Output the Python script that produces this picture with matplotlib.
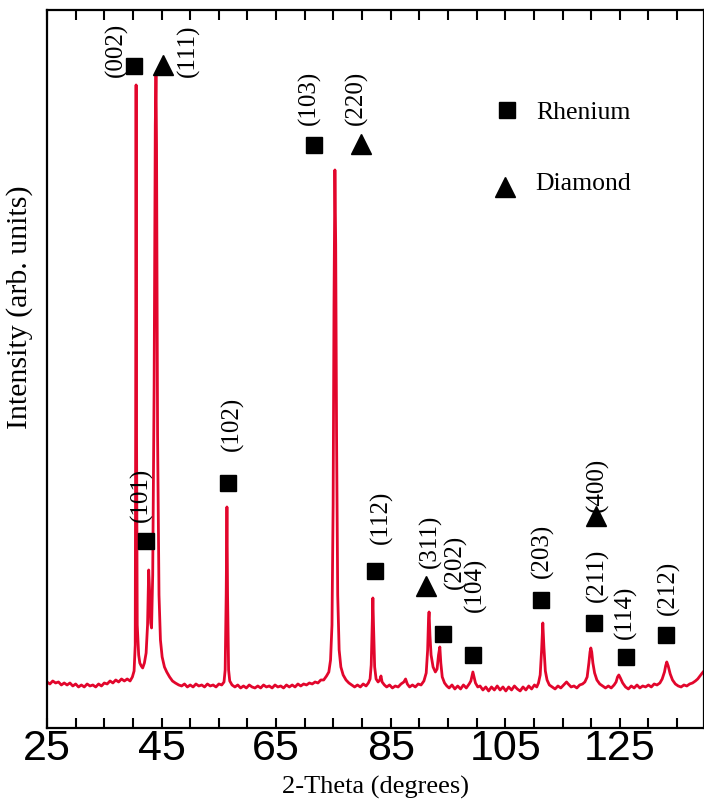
import numpy as np
import matplotlib
matplotlib.use('Agg')
import matplotlib.pyplot as plt

# данные: дифрактограмма (2θ, интенсивность)
theta = [25.0, 25.5, 26.0, 26.5, 27.0, 27.5, 28.0, 28.5, 29.0, 29.5, 30.0, 30.5, 31.0, 31.5, 32.0,
         32.5, 33.0, 33.5, 34.0, 34.5, 35.0, 35.5, 36.0, 36.5, 37.0, 37.5, 38.0, 38.5, 39.0, 39.5,
         39.9, 40.2, 40.4, 40.47, 40.55, 40.63, 40.75, 41.0, 41.2, 41.45, 41.7, 42.0, 42.3, 42.55,
         42.75, 42.9, 43.1, 43.25, 43.45, 43.7, 43.9, 44.02, 44.12, 44.3, 44.55, 44.8, 45.1, 45.5,
         45.9, 46.4, 46.9, 47.4, 48.0,
         48.5, 49.0, 49.5, 50.0, 50.5, 51.0, 51.5, 52.0, 52.5, 53.0, 53.5, 54.0, 54.5, 55.0, 55.5,
         55.9, 56.1, 56.28, 56.41, 56.52, 56.7, 56.9, 57.3,
         57.8, 58.3, 58.8, 59.3, 59.8, 60.3, 60.8, 61.3, 61.8, 62.3, 62.8, 63.3, 63.8, 64.3, 64.8,
         65.3, 65.8, 66.3, 66.8, 67.3, 67.8, 68.3, 68.8, 69.3, 69.8, 70.3, 70.8, 71.3, 71.8, 72.3,
         72.8, 73.3, 73.8, 74.2,
         74.5, 74.75, 74.95, 75.1, 75.26, 75.4, 75.55, 75.75, 76.0, 76.3, 76.7, 77.2, 77.7, 78.2,
         78.7, 79.2, 79.7, 80.2, 80.7, 81.1,
         81.4, 81.6, 81.78, 81.89, 82.0, 82.2, 82.45, 82.8, 83.1, 83.3, 83.5, 83.9,
         84.3, 84.8, 85.3, 85.8, 86.3, 86.8, 87.3, 87.6, 87.9, 88.3, 88.8, 89.3, 89.8, 90.3,
         90.8, 91.2, 91.45, 91.6, 91.7, 91.85, 92.05, 92.4, 92.8, 93.1, 93.35, 93.58, 93.75, 94.0,
         94.4, 94.8,
         95.2, 95.7, 96.2, 96.7, 97.2, 97.7, 98.2, 98.7,
         99.0, 99.2, 99.35, 99.55, 99.8, 100.2,
         100.6, 101.1, 101.6, 102.1, 102.6, 103.1, 103.6, 104.1, 104.6, 105.1, 105.6, 106.1, 106.6,
         107.1, 107.6, 108.1, 108.6, 109.1, 109.6, 110.1, 110.5,
         110.8, 111.1, 111.35, 111.56, 111.75, 112.0, 112.3, 112.7, 113.2,
         113.7, 114.2, 114.7, 115.2, 115.7, 116.0, 116.5, 117.0, 117.5, 118.0, 118.5,
         118.9, 119.3, 119.6, 119.8, 119.94, 120.1, 120.3, 120.6, 121.0, 121.5, 122.0,
         122.5, 123.0, 123.5, 124.0,
         124.35, 124.6, 124.83, 125.1, 125.5, 126.0,
         126.5, 127.0, 127.5, 128.0, 128.5, 129.0, 129.5, 130.0, 130.5, 131.0, 131.5, 132.0,
         132.4, 132.8, 133.0, 133.2, 133.45, 133.8, 134.2, 134.7, 135.2,
         135.7, 136.2, 136.7, 137.2, 137.7, 138.2, 138.6, 139.0, 139.4, 139.7]
counts = [3, 1, 4, 2, 3, 0, 2, 0, 2, -1, 1, -2, 0, -2, 1,
          -1, 0, -2, 1, -1, 2, 1, 4, 2, 5, 3, 6, 4, 6, 4,
          8, 14, 40, 250, 600, 250, 60, 30, 22, 19, 17, 22, 32, 60,
          115, 95, 62, 57, 110, 300, 560, 610, 540, 250, 90, 45, 28, 18,
          13, 8, 4, 2, 0,
          -1, 1, -2, 0, -2, 1, -1, 0, -2, 1, -1, 0, -2, 1, 0,
          3, 15, 90, 178, 90, 15, 4, 0,
          -2, 0, -3, -1, -3, 0, -2, -3, -1, -3, 0, -2, -1, -3, 0,
          -2, -1, -3, 0, -2, 0, -2, 1, -1, 1, 0, 2, 1, 3, 2,
          5, 5, 9, 13,
          25, 60, 180, 380, 515, 440, 250, 90, 35, 18, 10, 5, 2, 0,
          -2, 0, -2, 1, -1, 2,
          6, 20, 60, 87, 60, 18, 6, 3, 5, 9, 3, 0,
          -2, 0, -3, -1, -2, 1, 3, 6, 1, -2, 0, -2, 1, 0,
          4, 12, 35, 65, 73, 50, 30, 18, 13, 16, 30, 38, 22, 8,
          2, -1,
          -3, 0, -4, -1, -4, 0, -3, 1,
          4, 9, 13, 8, 2, -2,
          -1, -5, -2, -6, -2, -5, -1, -5, -2, -6, -2, -5, -1, -4,
          -6, -2, -5, -1, -4, 0, -2,
          2, 10, 35, 62, 38, 14, 5, 0, -2,
          -4, -1, -3, 0, 3, 1, -2, -1, -3, 0, 1,
          3, 8, 22, 33, 37, 33, 22, 12, 5, 1, -1,
          -3, -1, -3, 0,
          3, 8, 10, 7, 2, -2,
          -4, -1, -3, 0, -3, -1, -2, 0, -2, 1, 0, 2,
          6, 13, 19, 23, 19, 11, 5, 1, -1,
          -2, 0, -1, 1, 2, 4, 6, 9, 12, 14]

# значки фаз над пиками
re_x = [40.27, 71.68, 42.36, 56.6, 82.24, 94.1, 99.35, 111.3, 120.55, 126.1, 133.1]
re_y = [619, 540, 144, 202, 114, 51, 30, 85, 62, 28, 50]
dia_x = [45.24, 79.8, 91.14, 120.8]
dia_y = [620, 541, 99, 169]

# индексы (hkl)
hkl_text = ['(002)', '(111)', '(103)', '(220)', '(101)', '(102)', '(112)', '(311)',
            '(202)', '(104)', '(203)', '(400)', '(211)', '(114)', '(212)']
hkl_x = [37.04, 49.61, 70.72, 78.93, 41.4, 57.29, 83.29, 91.84,
         96.2, 99.69, 111.39, 120.99, 120.99, 126.05, 133.55]
hkl_y = [635, 634, 587, 587, 190, 261, 168, 144, 123, 100, 134, 200, 110, 73, 97]

xticks = [25, 45, 65, 85, 105, 125]

serif = ['Liberation Serif', 'DejaVu Serif']

fig = plt.figure(figsize=(7.04, 8.02), dpi=100)
ax = fig.add_axes([0.0668, 0.0923, 0.9332, 0.8953])

ax.plot(theta, counts, color='#e2062c', lw=2.0)

ax.plot(re_x, re_y, 's', color='black', ms=12, ls='none')
ax.plot(dia_x, dia_y, '^', color='black', ms=14, ls='none')
for t, x, y in zip(hkl_text, hkl_x, hkl_y):
    ax.text(x, y, t, rotation=90, ha='center', va='center', fontsize=18, family=serif)

# легенда вручную
ax.plot([105.28], [575], 's', color='black', ms=12)
ax.plot([104.93], [498], '^', color='black', ms=14)
ax.text(110.34, 572, 'Rhenium', ha='left', va='center', fontsize=18.5, family=serif)
ax.text(110.3, 501, 'Diamond', ha='left', va='center', fontsize=18.5, family=serif)

ax.set_xlim(25, 139.7)
ax.set_ylim(-43, 675)
ax.set_xticks(xticks)
ax.set_xticks(np.arange(25, 140, 5), minor=True)
ax.set_yticks([])
ax.tick_params(axis='x', which='both', direction='in', top=True, bottom=True,
               length=7, width=1.5, pad=1)
for lab in ax.get_xticklabels():
    lab.set_family(['Liberation Sans', 'DejaVu Sans'])
    lab.set_fontsize(31)

for s in ax.spines.values():
    s.set_linewidth(1.6)

ax.set_xlabel('2-Theta (degrees)', fontsize=19, family=serif, labelpad=5)
ax.set_ylabel('Intensity (arb. units)', fontsize=21.5, family=serif)
ax.yaxis.set_label_coords(-0.022, 0.586)

fig.savefig('out.png', dpi=100)
